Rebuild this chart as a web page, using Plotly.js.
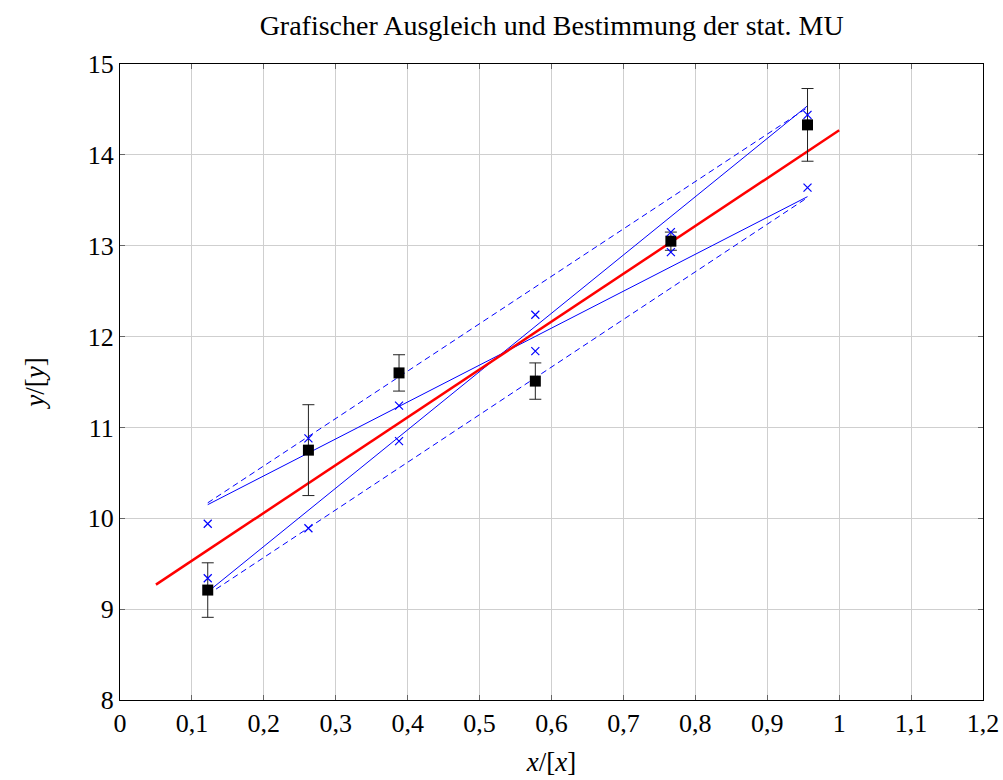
<!DOCTYPE html>
<html>
<head>
<meta charset="utf-8">
<script src="https://cdn.plot.ly/plotly-3.0.1.min.js"></script>
<style>html,body{margin:0;padding:0;background:#fff;}#chart{width:1003px;height:780px;}</style>
</head>
<body>
<div id="chart"></div>
<script>
// Measured data points
const xData = [0.122, 0.262, 0.388, 0.5775, 0.766, 0.956];
const yData = [9.21, 10.75, 11.60, 11.51, 13.05, 14.33];
const yErr = [0.3, 0.5, 0.2, 0.2, 0.1, 0.4];
// Blue cross markers (upper / lower)
const crossUpper = [9.94, 10.88, 11.24, 12.24, 13.15, 14.44];
const crossLower = [9.34, 9.89, 10.85, 11.84, 12.93, 13.64];
// Fit line (red)
const fitX = [0.05, 1.0];
const fitY = [9.27, 14.27];
// Extreme lines (blue)
const limX = [0.122, 0.956];
const steepY = [9.19, 14.54];
const shallowY = [10.15, 13.54];
const dashUpperY = [10.17, 14.52];
const dashLowerY = [9.16, 13.53];
// Tick labels
const xTicks = [0, 0.1, 0.2, 0.3, 0.4, 0.5, 0.6, 0.7, 0.8, 0.9, 1.0, 1.1, 1.2];
const xTickText = ["0","0,1","0,2","0,3","0,4","0,5","0,6","0,7","0,8","0,9","1","1,1","1,2"];
const yTicks = [8, 9, 10, 11, 12, 13, 14, 15];

const blue = '#0000ff';
const font = 'Liberation Serif, Times New Roman, serif';

const traces = [
  {x: limX, y: dashUpperY, mode: 'lines', line: {color: blue, width: 1, dash: '6px,4px'}, hoverinfo: 'skip'},
  {x: limX, y: dashLowerY, mode: 'lines', line: {color: blue, width: 1, dash: '6px,4px'}, hoverinfo: 'skip'},
  {x: limX, y: steepY, mode: 'lines', line: {color: blue, width: 1}, hoverinfo: 'skip'},
  {x: limX, y: shallowY, mode: 'lines', line: {color: blue, width: 1}, hoverinfo: 'skip'},
  {x: fitX, y: fitY, mode: 'lines', line: {color: '#ff0000', width: 2.5}, hoverinfo: 'skip'},
  {x: xData, y: yData, mode: 'markers', marker: {symbol: 'square', size: 11, color: '#000'},
   error_y: {type: 'data', array: yErr, visible: true, color: '#222', thickness: 1, width: 6}},
  {x: xData, y: crossUpper, mode: 'markers', marker: {symbol: 'x-thin', size: 8, line: {color: blue, width: 1.2}}},
  {x: xData, y: crossLower, mode: 'markers', marker: {symbol: 'x-thin', size: 8, line: {color: blue, width: 1.2}}}
];

const layout = {
  width: 1003, height: 780,
  margin: {l: 120, r: 20, t: 64, b: 80},
  paper_bgcolor: '#fff', plot_bgcolor: '#fff',
  showlegend: false,
  separators: ', ',
  font: {family: font, color: '#000', size: 26},
  title: {text: 'Grafischer Ausgleich und Bestimmung der stat. MU', font: {family: font, size: 28, color: '#000'},
          x: 0.55, xanchor: 'center', y: 0.968, yanchor: 'middle'},
  xaxis: {
    range: [0, 1.2], tickvals: xTicks, ticktext: xTickText,
    showgrid: true, gridcolor: '#cfcfcf', gridwidth: 1, zeroline: false,
    showline: true, linecolor: '#000', linewidth: 1, mirror: 'ticks',
    ticks: 'inside', ticklen: 5, tickcolor: '#666',
    tickfont: {family: font, size: 26, color: '#000'},
    title: {text: '<i>x</i>/[<i>x</i>]', font: {family: font, size: 27, color: '#000'}, standoff: 14}
  },
  yaxis: {
    range: [8, 15], tickvals: yTicks,
    showgrid: true, gridcolor: '#cfcfcf', gridwidth: 1, zeroline: false,
    showline: true, linecolor: '#000', linewidth: 1, mirror: 'ticks',
    ticks: 'inside', ticklen: 5, tickcolor: '#666',
    tickfont: {family: font, size: 26, color: '#000'},
    title: {text: '<i>y</i>/[<i>y</i>]', font: {family: font, size: 27, color: '#000'}, standoff: 35}
  }
};

Plotly.newPlot('chart', traces, layout, {displayModeBar: false, staticPlot: true});
</script>
</body>
</html>
